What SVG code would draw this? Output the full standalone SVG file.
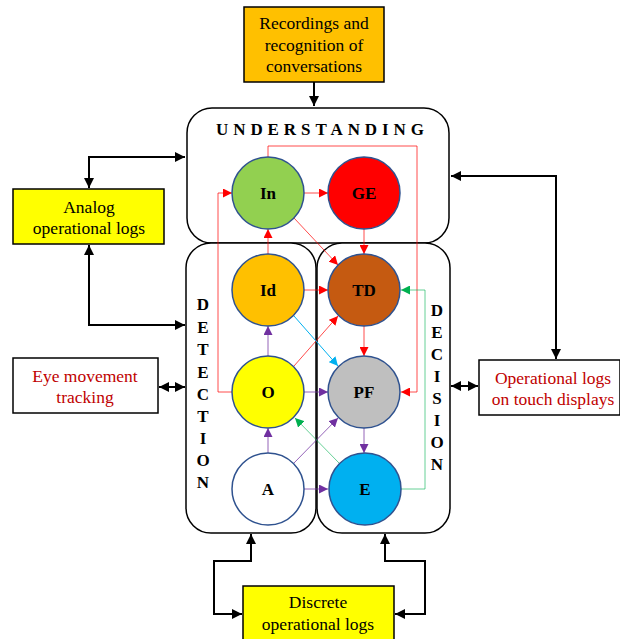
<svg xmlns="http://www.w3.org/2000/svg" width="620" height="639" viewBox="0 0 620 639">
<defs>
<style>
.box{stroke:#000;stroke-width:1.5}
.grp{fill:#fff;stroke:#000;stroke-width:1.5}
.t{font-family:"Liberation Serif","Times New Roman",serif;font-size:17.5px;text-anchor:middle}
.red{fill:#C00000}
.lbl{font-family:"Liberation Serif","Times New Roman",serif;font-size:17px;font-weight:bold;text-anchor:middle}
.vl{font-family:"Liberation Serif","Times New Roman",serif;font-size:17px;font-weight:bold;text-anchor:middle}
.node{stroke:#2F528F;stroke-width:1.5}
.blk{fill:none;stroke:#000;stroke-width:2}
.r{fill:none;stroke:#FF0000;stroke-width:1;stroke-opacity:0.7}
.p{fill:none;stroke:#7030A0;stroke-width:1;stroke-opacity:0.75}
.b{fill:none;stroke:#00B0F0;stroke-width:1}
.g{fill:none;stroke:#00B050;stroke-width:1;stroke-opacity:0.6}
</style>
<marker id="mk" viewBox="0 0 10 10" refX="10" refY="5" markerWidth="5" markerHeight="5" orient="auto-start-reverse" markerUnits="strokeWidth"><path d="M0,0L10,5L0,10z" fill="#000"/></marker>
<marker id="mr" viewBox="0 0 10 10" refX="10" refY="5" markerWidth="9" markerHeight="9" orient="auto" markerUnits="userSpaceOnUse"><path d="M0,0L10,5L0,10z" fill="#FF0000"/></marker>
<marker id="mp" viewBox="0 0 10 10" refX="10" refY="5" markerWidth="9" markerHeight="9" orient="auto" markerUnits="userSpaceOnUse"><path d="M0,0L10,5L0,10z" fill="#7030A0"/></marker>
<marker id="mb" viewBox="0 0 10 10" refX="10" refY="5" markerWidth="9" markerHeight="9" orient="auto" markerUnits="userSpaceOnUse"><path d="M0,0L10,5L0,10z" fill="#00B0F0"/></marker>
<marker id="mg" viewBox="0 0 10 10" refX="10" refY="5" markerWidth="9" markerHeight="9" orient="auto" markerUnits="userSpaceOnUse"><path d="M0,0L10,5L0,10z" fill="#00B050"/></marker>
</defs>
<rect width="620" height="639" fill="#fff"/>

<g id="understanding">
<rect class="grp" x="187" y="108" width="262" height="135" rx="25"/>
<text class="vl" x="216" y="135" textLength="208" lengthAdjust="spacing" style="text-anchor:start">UNDERSTANDING</text>
</g>
<g id="detection">
<rect class="grp" x="186" y="243" width="130" height="290" rx="25"/>
<text class="vl"><tspan x="203" y="310">D</tspan><tspan x="203" y="333">E</tspan><tspan x="203" y="355">T</tspan><tspan x="203" y="378">E</tspan><tspan x="203" y="400">C</tspan><tspan x="203" y="422">T</tspan><tspan x="203" y="444">I</tspan><tspan x="203" y="466">O</tspan><tspan x="203" y="488">N</tspan></text>
</g>
<g id="decision">
<rect class="grp" x="317" y="243" width="133" height="290" rx="25"/>
<text class="vl"><tspan x="437" y="316">D</tspan><tspan x="437" y="338">E</tspan><tspan x="437" y="360">C</tspan><tspan x="437" y="382">I</tspan><tspan x="437" y="404">S</tspan><tspan x="437" y="426">I</tspan><tspan x="437" y="448">O</tspan><tspan x="437" y="470">N</tspan></text>
</g>

<g id="recordings">
<rect class="box" x="244" y="7" width="140" height="75" fill="#FFC000"/>
<text class="t"><tspan x="314" y="29">Recordings and</tspan><tspan x="314" y="51">recognition of</tspan><tspan x="314" y="72">conversations</tspan></text>
</g>
<g id="analog">
<rect class="box" x="13" y="189" width="151" height="55" fill="#FFFF00"/>
<text class="t"><tspan x="89" y="213">Analog</tspan><tspan x="89" y="234">operational logs</tspan></text>
</g>
<g id="eye">
<rect class="box" x="13" y="358" width="145" height="55" fill="#fff"/>
<text class="t red"><tspan x="85" y="382">Eye movement</tspan><tspan x="85" y="403">tracking</tspan></text>
</g>
<g id="touch">
<rect class="box" x="479" y="360" width="141" height="55" fill="#fff"/>
<text class="t red"><tspan x="553" y="384">Operational logs</tspan><tspan x="553" y="405">on touch displays</tspan></text>
</g>
<g id="discrete">
<rect class="box" x="243" y="586" width="151" height="60" fill="#FFFF00"/>
<text class="t"><tspan x="318" y="608">Discrete</tspan><tspan x="318" y="630">operational logs</tspan></text>
</g>

<g id="connectors">
<path class="blk" d="M314,82V106" marker-end="url(#mk)"/>
<path class="blk" d="M89,188V157H185" marker-start="url(#mk)" marker-end="url(#mk)"/>
<path class="blk" d="M89,245V325H185" marker-start="url(#mk)" marker-end="url(#mk)"/>
<path class="blk" d="M159,387H185" marker-start="url(#mk)" marker-end="url(#mk)"/>
<path class="blk" d="M451,386H478" marker-start="url(#mk)" marker-end="url(#mk)"/>
<path class="blk" d="M451,176H556V359" marker-start="url(#mk)" marker-end="url(#mk)"/>
<path class="blk" d="M251,534V561H214V614H242" marker-start="url(#mk)" marker-end="url(#mk)"/>
<path class="blk" d="M385,534V561H425V614H395" marker-start="url(#mk)" marker-end="url(#mk)"/>

<path class="r" d="M304,193H328" marker-end="url(#mr)"/>
<path class="r" d="M268,157V146H417V392H401" marker-end="url(#mr)"/>
<path class="r" d="M232,392H218V193H232" marker-end="url(#mr)"/>
<path class="r" d="M268,254V229" marker-end="url(#mr)"/>
<path class="r" d="M304,290H328" marker-end="url(#mr)"/>
<path class="r" d="M294,218L338,265" marker-end="url(#mr)"/>
<path class="r" d="M364,229V254" marker-end="url(#mr)"/>
<path class="r" d="M294,366L338,316" marker-end="url(#mr)"/>
<path class="r" d="M364,326V356" marker-end="url(#mr)"/>
<path class="b" d="M294,316L338,366" marker-end="url(#mb)"/>
<path class="p" d="M268,356V326" marker-end="url(#mp)"/>
<path class="p" d="M304,392H328" marker-end="url(#mp)"/>
<path class="p" d="M268,453V428" marker-end="url(#mp)"/>
<path class="p" d="M294,463L338,418" marker-end="url(#mp)"/>
<path class="p" d="M304,489H328" marker-end="url(#mp)"/>
<path class="p" d="M364,428V453" marker-end="url(#mp)"/>
<path class="g" d="M339,463L295,418" marker-end="url(#mg)"/>
<path class="g" d="M401,489H425V290H401" marker-end="url(#mg)"/>
</g>

<g id="In"><circle class="node" cx="268" cy="193" r="36" fill="#92D050"/><text class="lbl" x="268" y="199">In</text></g>
<g id="GE"><circle class="node" cx="364" cy="193" r="36" fill="#FF0000"/><text class="lbl" x="364" y="199">GE</text></g>
<g id="Id"><circle class="node" cx="268" cy="290" r="36" fill="#FFC000"/><text class="lbl" x="268" y="296">Id</text></g>
<g id="TD"><circle class="node" cx="364" cy="290" r="36" fill="#C55A11"/><text class="lbl" x="364" y="296">TD</text></g>
<g id="O"><circle class="node" cx="268" cy="392" r="36" fill="#FFFF00"/><text class="lbl" x="268" y="398">O</text></g>
<g id="PF"><circle class="node" cx="364" cy="392" r="36" fill="#BFBFBF"/><text class="lbl" x="364" y="398">PF</text></g>
<g id="A"><circle class="node" cx="268" cy="489" r="36" fill="#FFFFFF"/><text class="lbl" x="268" y="495">A</text></g>
<g id="E"><circle class="node" cx="365" cy="489" r="36" fill="#00B0F0"/><text class="lbl" x="365" y="495">E</text></g>
</svg>
